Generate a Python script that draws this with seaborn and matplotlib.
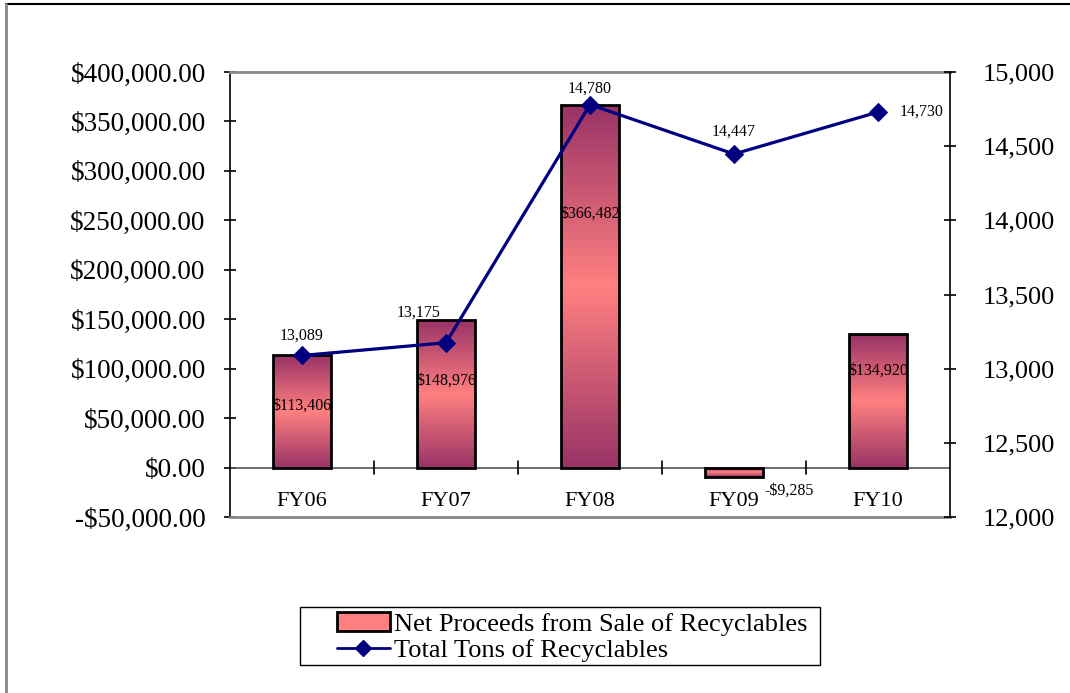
import numpy as np
import pandas as pd
import matplotlib
matplotlib.use("Agg")
import matplotlib.pyplot as plt
from matplotlib.colors import LinearSegmentedColormap
from matplotlib.lines import Line2D
from matplotlib.patches import Rectangle
from matplotlib.ticker import FuncFormatter, MultipleLocator
import seaborn as sns

# ---- data ----
categories = ["FY06", "FY07", "FY08", "FY09", "FY10"]
net_proceeds = [113406, 148976, 366482, -9285, 134920]
total_tons = [13089, 13175, 14780, 14447, 14730]
proceeds_labels = ["$113,406", "$148,976", "$366,482", "-$9,285", "$134,920"]
tons_labels = ["13,089", "13,175", "14,780", "14,447", "14,730"]
bar_series_name = "Net Proceeds from Sale of Recyclables"
line_series_name = "Total Tons of Recyclables"

# ---- style ----
sns.set_style("white")
plt.rcParams["font.family"] = ["Liberation Serif", "DejaVu Serif"]
plt.rcParams["text.color"] = "black"

W, H = 1070, 693
fig = plt.figure(figsize=(W / 100, H / 100), dpi=100)
ax = fig.add_axes([230 / W, 1 - 517 / H, 720 / W, 445 / H])

df = pd.DataFrame({"cat": categories, "val": net_proceeds})
sns.barplot(data=df, x="cat", y="val", ax=ax, width=0.4, color="#FF8080",
            edgecolor="black", linewidth=2, saturation=1, zorder=3)

ax.set_ylim(-50000, 400000)
ax.set_xlim(-0.5, len(categories) - 0.5)

# gradient fill for bars
cmap = LinearSegmentedColormap.from_list("g", ["#993366", "#FF8080", "#993366"])
grad = np.linspace(0, 1, 256).reshape(-1, 1)
for p in ax.patches:
    x0, y0 = p.get_x(), p.get_y()
    w, h = p.get_width(), p.get_height()
    ylo, yhi = min(y0, y0 + h), max(y0, y0 + h)
    im = ax.imshow(grad, cmap=cmap, aspect="auto", extent=[x0, x0 + w, ylo, yhi],
                   origin="lower", zorder=2.9, interpolation="bilinear")
    im.set_clip_path(p)
    p.set_facecolor("none")
ax.set_xlim(-0.5, len(categories) - 0.5)
ax.set_ylim(-50000, 400000)

# line on secondary axis
ax2 = ax.twinx()
sns.lineplot(x=categories, y=total_tons, ax=ax2, color="#000080", linewidth=2.3,
             marker="D", markersize=9, markeredgecolor="#000080", sort=False, zorder=5)
ax2.set_ylim(12000, 15000)
ax2.set_xlim(-0.5, len(categories) - 0.5)

# ---- axes styling ----
money = FuncFormatter(lambda v, _: ("-$" if v < 0 else "$") + f"{abs(v):,.2f}")
ax.yaxis.set_major_locator(MultipleLocator(50000))
ax.yaxis.set_major_formatter(money)
ax2.yaxis.set_major_locator(MultipleLocator(500))
ax2.yaxis.set_major_formatter(FuncFormatter(lambda v, _: f"{int(v):,}"))

for s in ["left", "right", "top", "bottom"]:
    ax.spines[s].set_visible(False)
    ax2.spines[s].set_visible(False)
ax.spines["left"].set_visible(True)
ax.spines["left"].set_color("black")
ax.spines["left"].set_linewidth(1.2)
ax2.spines["right"].set_visible(True)
ax2.spines["right"].set_color("black")
ax2.spines["right"].set_linewidth(1.2)
ax.spines["top"].set_visible(True)
ax.spines["top"].set_color("#888888")
ax.spines["top"].set_linewidth(2)
ax.spines["bottom"].set_visible(True)
ax.spines["bottom"].set_color("#888888")
ax.spines["bottom"].set_linewidth(2)

# zero line with category separators
ax.axhline(0, color="#555555", linewidth=1.2, zorder=2)
ax.tick_params(axis="y", direction="inout", length=9, width=1.2, pad=13,
               labelsize=19.5, colors="black", left=True)
ax2.tick_params(axis="y", direction="inout", length=9, width=1.2, pad=19,
                labelsize=19, colors="black", right=True)
ax.set_xticks([])
ax2.set_xticks([])
ax.set_xlabel("")
ax.set_ylabel("")
ax2.set_xlabel("")
ax2.set_ylabel("")

# separators and category labels on the zero line
for i in range(len(categories) - 1):
    ax.plot([i + 0.5, i + 0.5], [-6500, 6500], color="black", linewidth=1.2,
            zorder=2, clip_on=False)
for i, c in enumerate(categories):
    ax.annotate(c, xy=(i, 0), xytext=(0, -34), textcoords="offset pixels",
                ha="center", va="center", fontsize=16, color="black")

# data labels
bar_label_frac = [0.55, 0.59, 0.70, 0.0, 0.73]
for i, (v, t, f) in enumerate(zip(net_proceeds, proceeds_labels, bar_label_frac)):
    if v < 0:
        ax.annotate(t, xy=(i, v), xytext=(55, -14), textcoords="offset pixels",
                    ha="center", va="center", fontsize=11.5, zorder=6, color="black")
    else:
        ax.text(i, v * f, t, ha="center", va="center", fontsize=11.5, zorder=6,
                color="black")

line_offsets = [(0, 20), (-27, 30), (0, 16), (0, 22), (44, 0)]
for i, (v, t, o) in enumerate(zip(total_tons, tons_labels, line_offsets)):
    ax2.annotate(t, xy=(i, v), xytext=o, textcoords="offset pixels",
                 ha="center", va="center", fontsize=11.5, zorder=6, color="black")

# legend (content without frame) + manual frame
handles = [Rectangle((0, 0), 1, 1, facecolor="#FF8080", edgecolor="black", linewidth=2),
           Line2D([0], [0], color="#000080", linewidth=2, marker="D", markersize=8)]
leg = fig.legend(handles, [bar_series_name, line_series_name],
                 loc="center", bbox_to_anchor=(572 / W, 1 - 637 / H),
                 fontsize=19, frameon=False, labelcolor="black",
                 handlelength=2.0, handletextpad=0.15, labelspacing=0.1,
                 borderpad=0.0, borderaxespad=0)
fig.add_artist(Rectangle((300 / W, 1 - 665 / H), 520 / W, 58 / H,
                         transform=fig.transFigure, facecolor="none",
                         edgecolor="black", linewidth=1))

# figure frame (top and left edges)
fig.add_artist(Line2D([6 / W, 1], [1 - 4 / H, 1 - 4 / H], color="black", linewidth=1.5))
fig.add_artist(Line2D([6 / W, 6 / W], [0, 1 - 4 / H], color="#888888", linewidth=2))

fig.savefig("out.png", dpi=100)
